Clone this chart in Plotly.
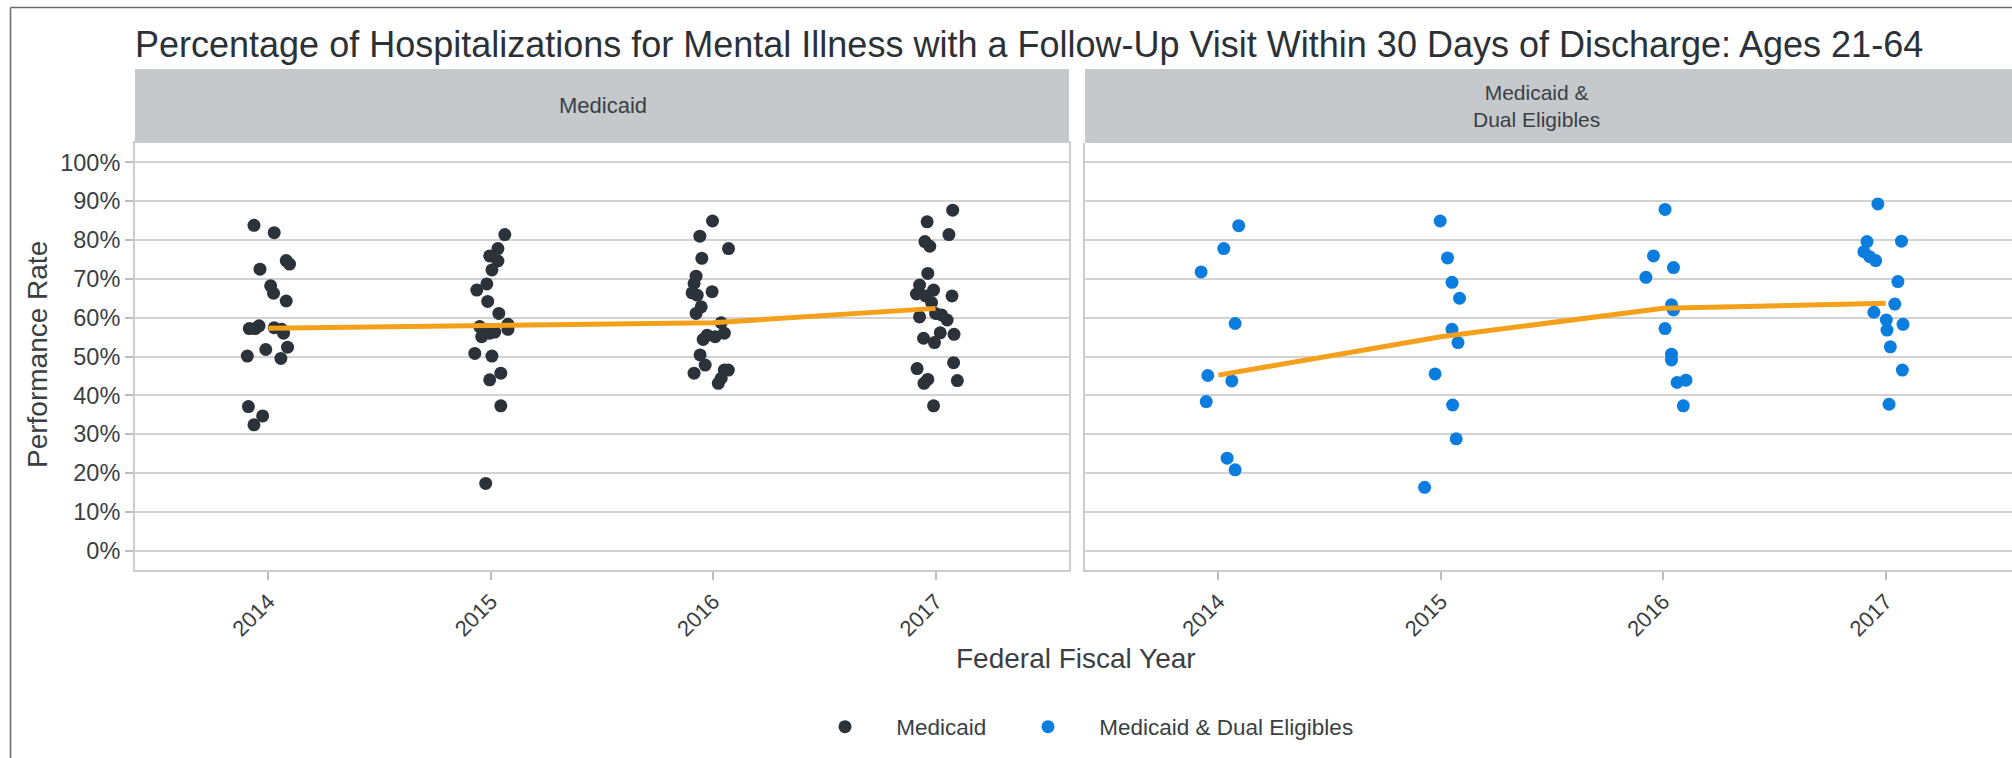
import plotly.graph_objects as go

years = [2014, 2015, 2016, 2017]
year_labels = ["2014", "2015", "2016", "2017"]
pct_ticks = list(range(0, 101, 10))
pct_labels = [f"{v}%" for v in pct_ticks]

# Medicaid: performance rate (%) per reporting state, with horizontal jitter (in years)
med_2014 = [83.8, 81.9, 72.5, 74.7, 73.8, 68.2, 66.3, 64.3, 57.2, 57.2, 57.9, 57.4, 57.0, 56.0, 52.4, 51.8, 50.1, 49.5, 37.1, 34.7, 32.4]
med_2014_jit = [-0.065, 0.026, -0.038, 0.080, 0.095, 0.010, 0.023, 0.080, -0.086, -0.060, -0.042, 0.026, 0.060, 0.068, 0.086, -0.012, -0.095, 0.056, -0.090, -0.026, -0.065]
med_2015 = [81.4, 77.8, 75.9, 74.6, 72.3, 68.7, 67.1, 64.2, 61.1, 58.3, 57.0, 57.7, 56.0, 55.1, 56.3, 50.8, 50.1, 45.7, 44.0, 37.3, 17.3]
med_2015_jit = [0.063, 0.032, -0.005, 0.032, 0.005, -0.018, -0.063, -0.014, 0.036, 0.077, 0.077, -0.050, -0.005, -0.041, 0.018, -0.072, 0.005, 0.045, -0.005, 0.045, -0.023]
med_2016 = [84.9, 81.0, 77.8, 75.3, 70.7, 68.8, 66.4, 65.8, 66.7, 62.8, 61.1, 58.7, 55.5, 54.4, 55.1, 56.0, 50.4, 47.8, 45.7, 46.5, 46.5, 43.1, 44.4]
med_2016_jit = [-0.003, -0.060, 0.069, -0.051, -0.077, -0.086, -0.095, -0.072, -0.005, -0.054, -0.077, 0.036, -0.027, -0.045, 0.009, 0.050, -0.059, -0.036, -0.086, 0.050, 0.068, 0.023, 0.036]
med_2017 = [87.7, 84.7, 81.4, 79.6, 78.4, 71.4, 68.4, 66.1, 65.6, 67.1, 65.6, 63.9, 60.2, 61.1, 60.7, 59.4, 54.7, 56.1, 55.7, 53.6, 48.4, 46.9, 44.1, 43.1, 43.8, 37.3]
med_2017_jit = [0.077, -0.038, 0.060, -0.048, -0.026, -0.035, -0.072, -0.086, -0.045, -0.009, 0.074, -0.018, -0.072, 0.000, 0.027, 0.052, -0.054, 0.021, 0.083, -0.005, 0.081, -0.083, -0.035, -0.052, 0.098, -0.009]
med_median = [57.3, 57.9, 58.7, 62.4]

# Medicaid & Dual Eligibles
dual_2014 = [83.7, 77.8, 71.8, 58.5, 45.1, 43.7, 38.4, 23.8, 20.8]
dual_2014_jit = [0.091, 0.024, -0.078, 0.075, -0.048, 0.060, -0.055, 0.039, 0.075]
dual_2015 = [84.9, 75.4, 69.1, 65.0, 57.0, 53.6, 45.5, 37.5, 28.8, 16.3]
dual_2015_jit = [-0.003, 0.030, 0.050, 0.084, 0.050, 0.077, -0.026, 0.053, 0.069, -0.073]
dual_2016 = [87.9, 75.9, 72.9, 70.4, 63.3, 62.6, 62.0, 57.2, 50.6, 49.1, 43.3, 43.9, 37.3]
dual_2016_jit = [0.008, -0.044, 0.046, -0.078, 0.037, 0.040, 0.046, 0.008, 0.037, 0.037, 0.062, 0.102, 0.090]
dual_2017 = [89.3, 79.6, 79.7, 77.0, 75.7, 74.7, 69.3, 63.5, 61.4, 59.4, 58.3, 56.8, 52.5, 46.5, 37.7]
dual_2017_jit = [-0.035, -0.084, 0.071, -0.098, -0.072, -0.045, 0.055, 0.041, -0.053, 0.003, 0.078, 0.006, 0.021, 0.075, 0.015]
dual_median = [45.2, 55.1, 62.4, 63.7]

med_groups = [(med_2014, med_2014_jit), (med_2015, med_2015_jit), (med_2016, med_2016_jit), (med_2017, med_2017_jit)]
dual_groups = [(dual_2014, dual_2014_jit), (dual_2015, dual_2015_jit), (dual_2016, dual_2016_jit), (dual_2017, dual_2017_jit)]


def jittered(groups):
    xs, ys = [], []
    for yr, (vals, jit) in zip(years, groups):
        xs += [yr + j for j in jit]
        ys += vals
    return xs, ys


FONT = "Liberation Sans, Arial, sans-serif"
TEXT = "#3a3f45"
DARK = "#2c323a"
BLUE = "#0a7ddf"
ORANGE = "#f5a01a"
GRID = "#d2d2d2"
BORDER = "#cccccc"
STRIP = "#c6c9cb"

W, H = 2012, 758
ML, MR, MT, MB = 135, 0, 143, 188
PW, PH = W - ML - MR, H - MT - MB


def px_x(px):
    return (px - ML) / PW


def px_y(py):
    return (H - MB - py) / PH


left_dom = [0, px_x(1069)]
right_dom = [px_x(1085), 1]

fig = go.Figure()

mx, my = jittered(med_groups)
dx, dy = jittered(dual_groups)
nb = "\u00a0" * 5

fig.add_trace(go.Scatter(x=mx, y=my, mode="markers", name=nb + "Medicaid", legendwidth=158,
                         marker=dict(color=DARK, size=13), xaxis="x", yaxis="y"))
fig.add_trace(go.Scatter(x=dx, y=dy, mode="markers", name=nb + "Medicaid & Dual Eligibles",
                         legendwidth=330,
                         marker=dict(color=BLUE, size=13), xaxis="x2", yaxis="y2"))
fig.add_trace(go.Scatter(x=years, y=med_median, mode="lines", showlegend=False,
                         line=dict(color=ORANGE, width=5), xaxis="x", yaxis="y"))
fig.add_trace(go.Scatter(x=years, y=dual_median, mode="lines", showlegend=False,
                         line=dict(color=ORANGE, width=5), xaxis="x2", yaxis="y2"))

xcommon = dict(tickvals=years, ticktext=year_labels, tickangle=-45, ticks="outside",
               ticklen=8, tickcolor="#bdbdbd", tickwidth=1.5, showgrid=False, zeroline=False,
               showline=True, linecolor=BORDER, linewidth=2,
               tickfont=dict(family=FONT, size=22, color=TEXT))
ycommon = dict(range=[-5, 105], tickvals=pct_ticks, ticktext=pct_labels, showgrid=True,
               gridcolor=GRID, gridwidth=2, zeroline=False, showline=True,
               linecolor=BORDER, linewidth=2,
               tickfont=dict(family=FONT, size=23.5, color=TEXT))

fig.update_layout(
    width=W, height=H,
    margin=dict(l=ML, r=MR, t=MT, b=MB, pad=0),
    paper_bgcolor="white", plot_bgcolor="white",
    font=dict(family=FONT, color=TEXT),
    xaxis=dict(domain=left_dom, range=[2013.4, 2017.6], anchor="y", mirror=True, **xcommon),
    xaxis2=dict(domain=right_dom, range=[2013.4, 2017.568], anchor="y2", **xcommon),
    yaxis=dict(domain=[0, 1], anchor="x", mirror=True, ticks="outside", ticklen=8,
               tickcolor="#bdbdbd", tickwidth=1.5, **ycommon),
    yaxis2=dict(domain=[0, 1], anchor="x2", matches="y", showticklabels=False, ticks="", **ycommon),
    title=dict(text="Percentage of Hospitalizations for Mental Illness with a Follow-Up Visit Within 30 Days of Discharge: Ages 21-64",
               x=0, xref="paper", xanchor="left", y=1 - 44 / H, yref="container", yanchor="middle",
               font=dict(family=FONT, size=36, color="#2b3137")),
    legend=dict(orientation="h", x=px_x(825), xanchor="left", y=px_y(727), yanchor="middle",
                font=dict(family=FONT, size=22.5, color=TEXT),
                bgcolor="rgba(0,0,0,0)"),
    showlegend=True,
)

shapes = [
    dict(type="rect", xref="paper", yref="paper", x0=left_dom[0], x1=left_dom[1],
         y0=1, y1=px_y(69), fillcolor=STRIP, line=dict(width=0), layer="below"),
    dict(type="rect", xref="paper", yref="paper", x0=right_dom[0], x1=right_dom[1],
         y0=1, y1=px_y(69), fillcolor=STRIP, line=dict(width=0), layer="below"),
    # outer frame (top and left edges)
    dict(type="line", xref="paper", yref="paper", x0=px_x(10.5), x1=px_x(W + 20),
         y0=px_y(7.5), y1=px_y(7.5), line=dict(color="#666a6e", width=1.5)),
    dict(type="line", xref="paper", yref="paper", x0=px_x(10.5), x1=px_x(10.5),
         y0=px_y(7.5), y1=px_y(H + 20), line=dict(color="#666a6e", width=1.5)),
]
fig.update_layout(shapes=shapes)

annotations = [
    dict(text="Medicaid", x=px_x(603), y=px_y(106), xref="paper", yref="paper",
         showarrow=False, xanchor="center", yanchor="middle",
         font=dict(family=FONT, size=22, color=TEXT)),
    dict(text="Medicaid &<br>Dual Eligibles", x=px_x(1536), y=px_y(106), xref="paper", yref="paper",
         showarrow=False, xanchor="center", yanchor="middle",
         font=dict(family=FONT, size=21, color=TEXT)),
    dict(text="Federal Fiscal Year", x=px_x(1076), y=px_y(658), xref="paper", yref="paper",
         showarrow=False, xanchor="center", yanchor="middle",
         font=dict(family=FONT, size=28, color=TEXT)),
    dict(text="Performance Rate", x=px_x(37), y=px_y(355), xref="paper", yref="paper",
         showarrow=False, xanchor="center", yanchor="middle", textangle=-90,
         font=dict(family=FONT, size=28, color=TEXT)),
]
fig.update_layout(annotations=annotations)

fig.write_html("out.html")
